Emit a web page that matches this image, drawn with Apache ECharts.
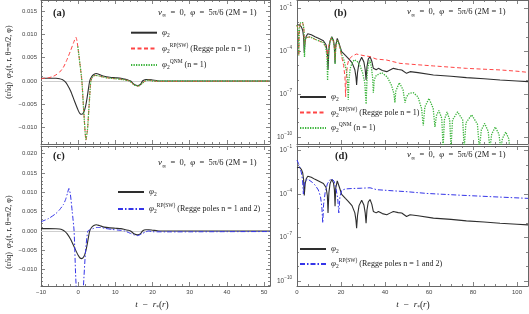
<!DOCTYPE html>
<html><head><meta charset="utf-8">
<script src="https://cdn.jsdelivr.net/npm/echarts@6/dist/echarts.min.js"></script>
<style>html,body{margin:0;padding:0;background:#fff}#c{width:529px;height:314px}</style>
</head><body><div id="c"></div>
<script>
// ---------------- DATA ----------------
// linear panels (a),(c): [t - r*(r), value]
const phi2Lin = [[-10,0.0006],[-8,0.0006],[-6,0.00058],[-5,0.0005],[-4.3,0.0003],[-3.6,-0.0001],[-3,-0.0007],[-2,-0.0022],[-1,-0.0043],[0,-0.0063],[0.5,-0.0070],[1,-0.00715],[1.5,-0.0067],[2,-0.0054],[2.5,-0.0031],[3.1,0],[3.6,0.0009],[4.2,0.0014],[4.9,0.0016],[5.7,0.0014],[7,0.0010],[8.5,0.0008],[10,0.0007],[11.5,0.0006],[12.5,0.0004],[13.4,0.0002],[14.1,0],[15,-0.0007],[16,-0.0010],[16.8,-0.0007],[17.3,0],[18.2,0.0003],[19,0.0003],[20,0.0002],[21,0.0001],[22,0],[30,0],[40,0],[51.6,0]];
const rp1Lin = [[-10,0.0005],[-8,0.0007],[-7,0.0009],[-6,0.0013],[-5,0.0019],[-4,0.0029],[-3,0.0046],[-2,0.0066],[-1.2,0.0083],[-0.6,0.0094],[-0.3,0.0085],[0,0.0068],[0.5,0.0035],[1,0],[1.5,-0.0065],[2.1,-0.0127],[2.5,-0.0105],[3,-0.0045],[3.4,0],[3.9,0.0009],[4.5,0.0012],[5.5,0.0011],[7,0.0008],[8.5,0.0006],[10,0.0005],[12,0.0003],[13.8,0],[15,-0.0008],[16.2,-0.0011],[17.2,-0.0005],[18,0],[19,0.0002],[20,0],[22,-0.0001],[30,-0.0001],[40,-0.00006],[51.6,-0.00004]];
const qnmLin = [[-0.1,0.0074],[0,0.0068],[0.5,0.0035],[1,0],[1.5,-0.0065],[2.1,-0.0125],[2.5,-0.0104],[3,-0.0045],[3.4,0],[3.9,0.0009],[4.5,0.0012],[5.5,0.0011],[7,0.0008],[8.5,0.0006],[10,0.0005],[12,0.0003],[13.8,0],[15,-0.0008],[16.2,-0.0011],[17.2,-0.0005],[18,0],[19,0.0002],[20,0],[22,0],[30,0],[40,0],[51.6,0]];
const rp12Lin = [[-10,0.0024],[-8,0.0032],[-6,0.0045],[-5,0.0055],[-4,0.0068],[-3.4,0.0081],[-2.9,0.0097],[-2.5,0.011],[-2.1,0.0095],[-1.6,0.005],[-1.1,0],[-0.7,-0.011],[-0.3,-0.019],[0,-0.022],[0.5,-0.024],[1,-0.021],[1.4,-0.0145],[2,-0.005],[2.6,0],[3.2,0.0003],[4,0.0006],[5,0.0009],[6,0.0009],[7,0.0007],[9,0.0004],[11,0.0002],[12.5,0],[14,-0.0006],[15,-0.001],[16,-0.0012],[17,-0.0008],[18,-0.0003],[19,0],[20,-0.0002],[25,-0.00023],[30,-0.00022],[40,-0.00018],[51.6,-0.00015]];

// log panels (b),(d): [t - r*(r), log10 |value|]
const phi2Log = [[0,-2.19],[1,-2.15],[2,-2.3],[2.6,-2.55],[3,-3.0],[3.3,-4.1],[3.7,-3.3],[4.2,-2.95],[4.9,-2.78],[6.5,-2.85],[8.2,-2.99],[10,-3.12],[12,-3.27],[13.2,-3.55],[13.8,-4.1],[14.1,-5.3],[14.5,-3.9],[15,-3.3],[15.8,-2.99],[16.6,-3.25],[17,-3.7],[17.3,-4.85],[17.6,-3.6],[18.3,-3.1],[19.2,-3.5],[20.3,-4.03],[22,-4.3],[23.3,-4.5],[25,-4.8],[26.3,-5.3],[26.8,-5.8],[27.1,-6.36],[27.5,-5.5],[28.2,-4.8],[29.4,-4.43],[30.4,-4.75],[31,-5.3],[31.4,-6.01],[31.8,-5.1],[32.4,-4.55],[33.2,-4.38],[34,-4.7],[34.7,-5.2],[36,-5.3],[37,-5.2],[38.8,-5.35],[40.8,-5.43],[42.5,-5.3],[43.8,-5.2],[46,-5.28],[47.6,-5.31],[49.8,-5.55],[51.4,-5.43],[55,-5.5],[62,-5.66],[70,-5.75],[77,-5.85],[85,-5.93],[92.3,-6.01],[100,-6.08],[105,-6.13]];
const rp1Log = [[0,-2.17],[0.4,-2.45],[0.65,-2.9],[0.8,-4.3],[0.95,-3.0],[1.2,-2.35],[1.6,-2.0],[2.1,-1.9],[2.6,-2.0],[3,-2.3],[3.2,-2.6],[3.4,-3.6],[3.6,-3.3],[4,-3.05],[4.6,-2.92],[6,-3.0],[8.2,-3.17],[10,-3.28],[12,-3.4],[13.1,-3.7],[13.6,-4.1],[13.8,-4.5],[14.1,-4.0],[14.7,-3.4],[15.8,-3.03],[16.6,-3.35],[17,-3.75],[17.3,-4.6],[17.6,-3.7],[18.3,-3.22],[19.3,-3.6],[20.3,-4.38],[21.2,-5.0],[21.8,-5.8],[22.1,-7.18],[22.4,-5.8],[22.9,-5.0],[23.5,-4.6],[25,-4.35],[27,-4.2],[30,-4.3],[33.2,-4.38],[36,-4.55],[40.8,-4.62],[46.8,-4.85],[55,-4.95],[62,-5.03],[70,-5.12],[77,-5.2],[85,-5.26],[92.3,-5.31],[100,-5.4],[105,-5.48]];
const qnmLog = [[0,-2.17],[0.4,-2.45],[0.65,-2.9],[0.8,-4.3],[0.95,-3.0],[1.2,-2.35],[1.6,-2.0],[2.1,-1.9],[2.6,-2.0],[3,-2.3],[3.2,-2.65],[3.4,-4.4],[3.6,-3.3],[4,-3.05],[4.6,-2.92],[6,-3.0],[8.2,-3.17],[10,-3.28],[12,-3.4],[13.1,-3.75],[13.6,-4.4],[13.9,-6.05],[14.3,-4.2],[14.9,-3.4],[15.8,-3.03],[16.6,-3.35],[17,-3.8],[17.3,-4.9],[17.6,-3.7],[18.3,-3.22],[19.5,-3.7],[20.5,-4.3],[21.5,-4.7],[22.5,-5.4],[23,-6.1],[23.3,-7.4],[23.6,-6.0],[24.2,-5.2],[25,-4.85],[26,-4.6],[27.3,-4.7],[28.6,-5.0],[29.8,-5.5],[30.8,-6.2],[31.4,-7.7],[31.9,-5.6],[32.5,-4.9],[33.2,-4.65],[33.9,-5.2],[34.4,-5.9],[34.7,-6.9],[35.1,-6.0],[36,-5.7],[38.5,-5.5],[41,-5.8],[43,-6.4],[44.1,-7.0],[44.5,-7.6],[44.9,-6.8],[46.5,-6.2],[48.2,-6.7],[49.1,-7.6],[49.7,-7.2],[51,-6.95],[52.9,-6.9],[55,-7.2],[56.6,-8.0],[57.4,-9.2],[58.1,-7.9],[60,-7.3],[61.9,-8.0],[62.7,-9.3],[63.4,-8.5],[64.5,-8.15],[65.8,-8.7],[66.4,-10.8],[67,-8.8],[68.2,-8.25],[69.4,-8.8],[70,-10.8],[70.7,-8.8],[73,-8.25],[75.3,-8.8],[76,-10.8],[76.8,-9.0],[79.4,-8.45],[82,-9.1],[82.9,-10.8],[83.8,-9.5],[85.3,-9.05],[86.9,-9.6],[87.7,-10.8],[88.5,-9.8],[90.1,-9.3],[91.8,-9.8],[92.6,-10.8],[93.4,-10.1],[94.9,-9.65],[96.2,-10.1],[96.8,-10.8]];
const rp12Log = [[0,-1.66],[0.7,-1.9],[1.4,-2.2],[2,-2.55],[2.5,-3.0],[2.9,-4.0],[3.3,-3.3],[4,-3.05],[5,-2.98],[5.9,-3.03],[7,-3.2],[8.2,-3.38],[9.7,-3.72],[10.7,-4.2],[11.3,-4.9],[11.7,-6.0],[12.1,-4.7],[12.8,-3.9],[13.8,-3.3],[14.8,-3.05],[15.8,-2.95],[16.8,-3.1],[17.7,-3.6],[18.5,-4.3],[19,-5.3],[19.5,-4.2],[20.3,-3.75],[22,-3.65],[25,-3.62],[29.4,-3.6],[33.2,-3.57],[36.2,-3.7],[43.8,-3.78],[50,-3.84],[59,-3.96],[74,-4.08],[89.2,-4.19],[105,-4.3]];

// tick labels
const xTicksLeft = [-10, 0, 10, 20, 30, 40, 50];
const xTicksRight = [0, 20, 40, 60, 80, 100];
const yTicksA = [-0.01, -0.005, 0, 0.005, 0.01, 0.015];
const yTicksC = [-0.01, -0.005, 0, 0.005, 0.01, 0.015, 0.02];
const yTicksLog = [1e-10, 1e-7, 1e-4, 1e-1];

// ---------------- STYLE / LAYOUT ----------------
const SERIF = '"Liberation Serif", "DejaVu Serif", serif';
const SANS = '"Liberation Sans", "DejaVu Sans", sans-serif';
const INK = '#222';
const FRAME = '#666';
const LBL = '#444';

const xMinLeft = []; for (let v = -10; v <= 50; v += 2) if (v % 10 !== 0) xMinLeft.push(v);
const xMinRight = []; for (let v = 5; v <= 105; v += 5) if (v % 20 !== 0) xMinRight.push(v);
const yMinA = []; for (let k = -13; k <= 17; k++) if (k % 5 !== 0) yMinA.push(k / 1000);
const yMinC = []; for (let k = -14; k <= 21; k++) if (k % 5 !== 0) yMinC.push(k / 1000);
const yMinLog = [1e-9, 1e-8, 1e-6, 1e-5, 1e-3, 1e-2];

const fmtX = v => (v < 0 ? '\u2212' + (-v) : String(v));
const fmtLin = v => (v < -1e-12 ? '\u2212' : '') + Math.abs(v).toFixed(3);
const fmtLog = v => { const e = Math.round(Math.log10(v)); return '{b|10}{s|' + (e < 0 ? '\u2212' : '') + Math.abs(e) + '}'; };

const panels = [
  {rect:{left:41, top:0, width:229, height:144}, x:[-10,51.6], y:[-0.01352,0.01738], yType:'value', xMaj:xTicksLeft, xMin:xMinLeft, yMaj:yTicksA, yMin:yMinA, xLab:false, yFmt:fmtLin},
  {rect:{left:297, top:0, width:231, height:144}, x:[0,105], y:[Math.pow(10,-10.49), Math.pow(10,-0.42)], yType:'log', xMaj:xTicksRight, xMin:xMinRight, yMaj:yTicksLog, yMin:yMinLog, xLab:false, yFmt:fmtLog},
  {rect:{left:41, top:146, width:229, height:140}, x:[-10,51.6], y:[-0.01425,0.0220], yType:'value', xMaj:xTicksLeft, xMin:xMinLeft, yMaj:yTicksC, yMin:yMinC, xLab:true, yFmt:fmtLin},
  {rect:{left:297, top:146, width:231, height:140}, x:[0,105], y:[Math.pow(10,-10.34), Math.pow(10,-0.69)], yType:'log', xMaj:xTicksRight, xMin:xMinRight, yMaj:yTicksLog, yMin:yMinLog, xLab:true, yFmt:fmtLog}
];

const grid = [], xAxis = [], yAxis = [];
panels.forEach(p => {
  for (let k = 0; k < 2; k++) {
    const major = k === 0;
    const gi = grid.length;
    grid.push(Object.assign({}, p.rect));
    ['bottom', 'top'].forEach(pos => {
      xAxis.push({
        type:'value', gridIndex:gi, position:pos, min:p.x[0], max:p.x[1],
        axisLine:{show:major, onZero:false, lineStyle:{color:FRAME, width:1}},
        axisTick:{show:true, inside:true, length:major?4:2, customValues:major?p.xMaj:p.xMin, lineStyle:{color:FRAME, width:0.8}},
        axisLabel:{show:major && pos === 'bottom' && p.xLab, customValues:p.xMaj, formatter:fmtX, margin:3, fontFamily:SANS, fontSize:6, color:LBL},
        splitLine:{show:false}
      });
    });
    ['left', 'right'].forEach(pos => {
      yAxis.push({
        type:p.yType, logBase:10, gridIndex:gi, position:pos, min:p.y[0], max:p.y[1],
        axisLine:{show:major, onZero:false, lineStyle:{color:FRAME, width:1}},
        axisTick:{show:true, inside:true, length:major?4:2, customValues:major?p.yMaj:p.yMin, lineStyle:{color:FRAME, width:0.8}},
        axisLabel:{show:major && pos === 'left', customValues:p.yMaj, formatter:p.yFmt, margin:p.yType === 'log' ? 5 : 4,
          fontFamily:SANS, fontSize:6, color:LBL,
          rich:{b:{fontFamily:SANS, fontSize:6.5, color:LBL, lineHeight:12}, s:{fontFamily:SANS, fontSize:4.6, color:LBL, verticalAlign:'top'}}},
        splitLine:{show:false}
      });
    });
  }
});

const LS = {
  black:{color:'#2e2e2e', width:1.1, type:'solid'},
  red:{color:'#ff4545', width:1, type:[4,2.5]},
  green:{color:'#3cb43c', width:1.3, type:[1.3,1.2]},
  blue:{color:'#3535e8', width:1, type:[5,2,1.5,2]}
};
const toLog = pairs => pairs.map(p => [p[0], Math.pow(10, p[1])]);
function S(name, panel, data, st, smooth, extra) {
  return Object.assign({name, type:'line', xAxisIndex:4*panel, yAxisIndex:4*panel, data, symbol:'none', showSymbol:false,
    smooth, lineStyle:Object.assign({}, st), itemStyle:{color:st.color}, clip:true, z:2, silent:true}, extra || {});
}
const zeroLine = {silent:true, symbol:'none', z:1, label:{show:false}, lineStyle:{color:'#cfcfcf', type:'solid', width:1}, data:[{yAxis:0}]};

const series = [
  S('a1', 0, phi2Lin, LS.black, 0.25, {markLine:zeroLine}),
  S('a2', 0, rp1Lin, LS.red, 0.2),
  S('a3', 0, qnmLin, LS.green, 0.2),
  S('b1', 1, toLog(phi2Log), LS.black, false),
  S('b2', 1, toLog(rp1Log), LS.red, false),
  S('b3', 1, toLog(qnmLog), LS.green, false),
  S('c1', 2, phi2Lin, LS.black, 0.25, {markLine:zeroLine}),
  S('c2', 2, rp12Lin, LS.blue, 0.2),
  S('d1', 3, toLog(phi2Log), LS.black, false),
  S('d2', 3, toLog(rp12Log), LS.blue, false)
];

const PHI = '{i|\u03c6}{sub|2}';
const labelOf = {
  a1: PHI, b1: PHI, c1: PHI, d1: PHI,
  a2: PHI + '{sup|RP(SW)}{n| (Regge pole n = 1)}', b2: PHI + '{sup|RP(SW)}{n| (Regge pole n = 1)}',
  a3: PHI + '{sup|QNM}{n| (n = 1)}', b3: PHI + '{sup|QNM}{n| (n = 1)}',
  c2: PHI + '{sup|RP(SW)}{n| (Regge poles n = 1 and 2)}', d2: PHI + '{sup|RP(SW)}{n| (Regge poles n = 1 and 2)}'
};
const RICH = {
  i:{fontFamily:SERIF, fontStyle:'italic', fontSize:9, color:INK, fill:INK, lineHeight:12},
  n:{fontFamily:SERIF, fontSize:8, color:INK, fill:INK, lineHeight:12},
  sub:{fontFamily:SERIF, fontSize:5.5, color:INK, fill:INK, verticalAlign:'bottom'},
  sup:{fontFamily:SERIF, fontSize:5.5, color:INK, fill:INK, verticalAlign:'top'},
  s:{fontFamily:SERIF, fontSize:6, color:INK, fill:INK, verticalAlign:'bottom'}
};
const legendPos = [
  ['a1',130,32.7],['a2',130,48.5],['a3',130,65],
  ['b1',299,97],['b2',299,112.5],['b3',299,128],
  ['c1',117,192],['c2',117,209],
  ['d1',299,249],['d2',299,264]
];
const legend = legendPos.map(([n, l, cy]) => ({
  data:[n], left:l, top:cy - 6, orient:'vertical', padding:0, itemWidth:26, itemHeight:8, selectedMode:false,
  itemStyle:{opacity:0}, formatter:nm => labelOf[nm],
  textStyle:{fontFamily:SERIF, fontSize:8, color:INK, lineHeight:12, rich:RICH}
}));

const ANN = '{i|v}{s|\u221e}  =  0,  {i|\u03c6}  =  5\u03c0/6 (2M = 1)';
function T(x, y, text, o) {
  return Object.assign({type:'text', x, y, silent:true, z:100,
    style:Object.assign({text, fill:INK, fontFamily:SERIF, fontSize:8.5, align:'left', verticalAlign:'middle', lineHeight:12, rich:RICH}, (o && o.style) || {})},
    o && o.rotation ? {rotation:o.rotation} : {});
}
const YT = '(r/iq)  {i|\u03c6}{sub|2}(t, r, \u03b8=\u03c0/2, \u03c6)';
const XT = '{i|t}  \u2212  {i|r}{sub|*}({i|r})';
const bold = {style:{fontWeight:'bold', fontSize:10.5}};
const graphic = [
  T(53, 13, '(a)', bold), T(158, 12.5, ANN),
  T(334, 13, '(b)', bold), T(407, 12, ANN),
  T(53, 156, '(c)', bold), T(158, 163, ANN),
  T(335, 156, '(d)', bold), T(407, 155, ANN),
  T(9, 62, YT, {rotation:Math.PI/2, style:{align:'center', fontSize:8}}),
  T(9, 232, YT, {rotation:Math.PI/2, style:{align:'center', fontSize:8}}),
  T(152, 305, XT, {style:{align:'center', fontSize:9.5}}),
  T(413, 305, XT, {style:{align:'center', fontSize:9.5}})
];

const chart = echarts.init(document.getElementById('c'), null, {renderer:'canvas'});
chart.setOption({animation:false, backgroundColor:'#fff', grid, xAxis, yAxis, series, legend, graphic});
</script></body></html>
